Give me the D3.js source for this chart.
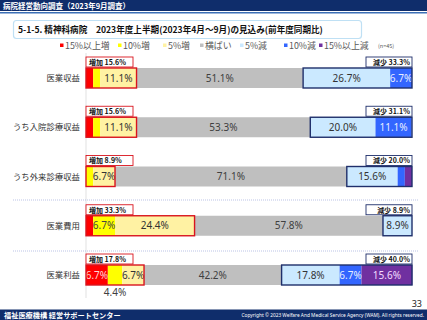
<!DOCTYPE html>
<html>
<head>
<meta charset="utf-8">
<script src="https://cdn.jsdelivr.net/npm/d3@7"></script>
<style>
  html, body { margin: 0; padding: 0; background: #fff; }
  svg { display: block; }
</style>
</head>
<body>
<div id="viz-container"></div>
<script>
let width = 427;
let height = 320;

// data (n=45)
let categories = ['医業収益', 'うち入院診療収益', 'うち外来診療収益', '医業費用', '医業利益'];
let seriesNames = ['15%以上増', '10%増', '5%増', '横ばい', '5%減', '10%減', '15%以上減'];
let inc15 = [2.2, 2.2, 0, 2.2, 6.7];
let inc10 = [2.2, 2.2, 2.2, 6.7, 4.4];
let inc5 = [11.1, 11.1, 6.7, 24.4, 6.7];
let flat = [51.1, 53.3, 71.1, 57.8, 42.2];
let dec5 = [26.7, 20.0, 15.6, 8.9, 17.8];
let dec10 = [6.7, 11.1, 2.2, 0, 6.7];
let dec15 = [0, 0, 2.2, 0, 15.6];
let incTotal = [15.6, 15.6, 8.9, 33.3, 17.8];
let decTotal = [33.3, 31.1, 20.0, 8.9, 40.0];

let colors = ['#ff0000', '#ffff00', '#fff2a3', '#bfbfbf', '#cbe9ff', '#3366ff', '#7030a0'];
let labelColors = ['#ffd6d6', '#444', '#333', '#404040', '#333', '#e8eeff', '#f3dcff'];

let allSeries = [inc15, inc10, inc5, flat, dec5, dec10, dec15];
let table = categories.map(function(c, i){
  let row = {cat: c};
  seriesNames.forEach(function(s, j){ row[s] = allSeries[j][i]; });
  return row;
});

let viz = d3.select('#viz-container')
  .append('svg')
  .attr('width', width)
  .attr('height', height)
  .style('font-family', '"Noto Sans CJK JP", "Noto Sans", sans-serif');

// header
viz.append('rect').attr('x', 0).attr('y', 0).attr('width', width).attr('height', 11).attr('fill', '#0f2d6b');
viz.append('rect').attr('x', 0).attr('y', 12).attr('width', width).attr('height', 1.5).attr('fill', '#3c6fb6');
viz.append('text')
  .text('病院経営動向調査（2023年9月調査）')
  .attr('x', 3).attr('y', 8.6)
  .attr('font-size', 7.5).attr('font-weight', 'bold').attr('fill', '#fff');

// title box
viz.append('rect')
  .attr('x', 13.5).attr('y', 20.5).attr('width', 348).attr('height', 18).attr('rx', 3)
  .attr('fill', '#fff').attr('stroke', '#bfe0f4').attr('stroke-width', 1.2);
viz.append('text')
  .text('5-1-5.  精神科病院　2023年度上半期(2023年4月～9月)の見込み(前年度同期比)')
  .attr('x', 18).attr('y', 33)
  .attr('font-size', 8.6).attr('font-weight', 'bold').attr('fill', '#111');

// scales
let xScale = d3.scaleLinear().domain([0, 100]).range([86, 412]);
let yScale = d3.scaleBand().domain(categories).range([68, 285]).paddingInner(0.594).paddingOuter(0);

// legend
let legendX = [60, 118, 163, 200, 240, 284, 319];
let legend = viz.selectAll('.legend').data(seriesNames).enter()
  .append('g')
  .attr('class', 'legend')
  .attr('transform', function(d, i){ return 'translate(' + legendX[i] + ',48.5)'; });
legend.append('rect')
  .attr('x', 0).attr('y', -5).attr('width', 3.5).attr('height', 3.5)
  .attr('fill', function(d, i){ return colors[i]; });
legend.append('text')
  .text(function(d){ return d; })
  .attr('x', 5).attr('y', 0)
  .attr('font-size', 8.9).attr('fill', '#595959');
viz.append('text').text('(n=45)')
  .attr('x', 378).attr('y', 47.5).attr('font-size', 5.5).attr('fill', '#595959');

// axis line
viz.append('line')
  .attr('x1', xScale(0)).attr('x2', xScale(0))
  .attr('y1', 53).attr('y2', 298)
  .attr('stroke', '#d9d9d9').attr('stroke-width', 0.8);

// separators
[200, 251].forEach(function(y){
  viz.append('line')
    .attr('x1', 13).attr('x2', 418).attr('y1', y).attr('y2', y)
    .attr('stroke', '#a9b4e0').attr('stroke-width', 0.8).attr('stroke-dasharray', '1,1');
});

// category labels
viz.selectAll('.catLabel').data(categories).enter()
  .append('text')
  .attr('class', 'catLabel')
  .text(function(d){ return d; })
  .attr('x', 80)
  .attr('y', function(d){ return yScale(d) + yScale.bandwidth() / 2 + 3; })
  .attr('text-anchor', 'end')
  .attr('font-size', 8.4).attr('fill', '#333');

// stacked bars
let stack = d3.stack().keys(seriesNames);
let stacked = stack(table);

let layers = viz.selectAll('.layer').data(stacked).enter()
  .append('g')
  .attr('class', 'layer')
  .attr('fill', function(d, i){ return colors[i]; });

layers.selectAll('rect').data(function(d){ return d; }).enter()
  .append('rect')
  .attr('x', function(d){ return xScale(d[0]); })
  .attr('y', function(d){ return yScale(d.data.cat); })
  .attr('width', function(d){ return Math.max(0, xScale(d[1]) - xScale(d[0])); })
  .attr('height', yScale.bandwidth());

// segment labels
stacked.forEach(function(layer, li){
  layer.forEach(function(d){
    let v = d[1] - d[0];
    if (v < 3) return;
    let cx = (xScale(d[0]) + xScale(d[1])) / 2;
    let y0 = yScale(d.data.cat);
    let below = v < 6;
    viz.append('text')
      .text(d.data[seriesNames[li]].toFixed(1) + '%')
      .attr('x', cx)
      .attr('y', below ? y0 + yScale.bandwidth() + 11 : y0 + yScale.bandwidth() / 2 + 3.6)
      .attr('text-anchor', 'middle')
      .attr('font-family', '"Noto Sans", sans-serif')
      .attr('font-size', 10)
      .attr('fill', below ? '#404040' : labelColors[li]);
  });
});

// outlines around increase / decrease parts
categories.forEach(function(c, i){
  let y0 = yScale(c);
  let incEnd = inc15[i] + inc10[i] + inc5[i];
  let decStart = incEnd + flat[i];
  viz.append('rect')
    .attr('x', xScale(0)).attr('y', y0)
    .attr('width', xScale(incEnd) - xScale(0)).attr('height', yScale.bandwidth())
    .attr('fill', 'none').attr('stroke', '#d9141e').attr('stroke-width', 1.4);
  viz.append('rect')
    .attr('x', xScale(decStart)).attr('y', y0)
    .attr('width', xScale(100) - xScale(decStart)).attr('height', yScale.bandwidth())
    .attr('fill', 'none').attr('stroke', '#1f2f6b').attr('stroke-width', 1.4);

  // tag boxes
  viz.append('rect')
    .attr('x', xScale(0)).attr('y', y0 - 11).attr('width', 47).attr('height', 10)
    .attr('fill', '#fff').attr('stroke', '#d9141e').attr('stroke-width', 0.9);
  viz.append('text')
    .text('増加 ' + incTotal[i].toFixed(1) + '%')
    .attr('x', xScale(0) + 3).attr('y', y0 - 3.2)
    .attr('font-size', 7).attr('font-weight', 'bold').attr('fill', '#111');
  viz.append('rect')
    .attr('x', xScale(100) - 46).attr('y', y0 - 11).attr('width', 46).attr('height', 10)
    .attr('fill', '#fff').attr('stroke', '#1f2f6b').attr('stroke-width', 0.9);
  viz.append('text')
    .text('減少 ' + decTotal[i].toFixed(1) + '%')
    .attr('x', xScale(100) - 2).attr('y', y0 - 3.2)
    .attr('text-anchor', 'end')
    .attr('font-size', 7).attr('font-weight', 'bold').attr('fill', '#111');
});

// page number
viz.append('text').text('33')
  .attr('x', 422).attr('y', 307).attr('text-anchor', 'end')
  .attr('font-family', '"Noto Sans", sans-serif').attr('font-size', 9).attr('fill', '#222');

// footer
viz.append('rect').attr('x', 0).attr('y', 309.5).attr('width', width).attr('height', 10.5).attr('fill', '#0f2d6b');
viz.append('text')
  .text('福祉医療機構 経営サポートセンター')
  .attr('x', 4).attr('y', 317.5)
  .attr('font-size', 7.2).attr('font-weight', 'bold').attr('fill', '#fff');
viz.append('text')
  .text('Copyright © 2023 Welfare And Medical Service Agency (WAM). All rights reserved.')
  .attr('x', 424).attr('y', 317)
  .attr('text-anchor', 'end')
  .attr('font-family', '"Noto Sans", sans-serif')
  .attr('font-size', 4.8).attr('fill', '#fff');
</script>
</body>
</html>
